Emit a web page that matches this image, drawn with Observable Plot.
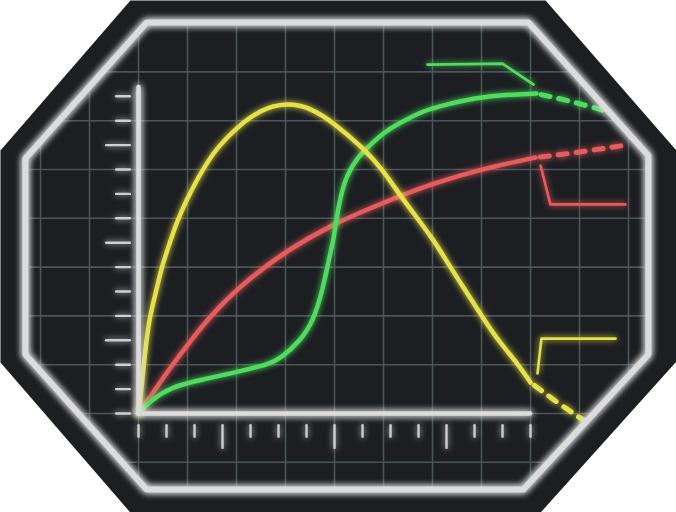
<!DOCTYPE html>
<html>
<head>
<meta charset="utf-8">
<script src="https://cdn.jsdelivr.net/npm/d3@7"></script>
<script src="https://cdn.jsdelivr.net/npm/@observablehq/plot@0.6"></script>
<style>
  body { margin: 0; background: #fff; }
  #fx { position: absolute; width: 0; height: 0; }
</style>
</head>
<body>
<svg id="fx" aria-hidden="true">
  <defs>
    <filter id="glow" filterUnits="userSpaceOnUse" x="0" y="0" width="676" height="512">
      <feGaussianBlur in="SourceGraphic" stdDeviation="3" result="b"/>
      <feMerge><feMergeNode in="b"/><feMergeNode in="SourceGraphic"/></feMerge>
    </filter>
    <filter id="glowW" filterUnits="userSpaceOnUse" x="0" y="0" width="676" height="512">
      <feGaussianBlur in="SourceGraphic" stdDeviation="3.5" result="b"/>
      <feMerge><feMergeNode in="b"/><feMergeNode in="b"/><feMergeNode in="SourceGraphic"/></feMerge>
    </filter>
    <clipPath id="inner"><polygon id="innerPoly" points=""/></clipPath>
  </defs>
</svg>
<div id="chart"></div>
<script>
// ticks del eje (largos cada 4)
const xTicks = [0, 1, 2, 3, 4, 5, 6, 7, 8, 9, 10, 11, 12, 13, 14];
const yTicks = [0, 1, 2, 3, 4, 5, 6, 7, 8, 9, 10, 11, 12, 13];
const longTicks = [3, 7, 11];

// grilla de fondo
const gridX = [-3.5, -1.75, 0, 1.75, 3.5, 5.25, 7, 8.75, 10.5, 12.25, 14, 15.75, 17.5];
const gridY = [-2, 0, 2, 4, 6, 8, 10, 12, 14, 16];

// curva amarilla
const yellowX = [0, 0.07, 0.25, 0.39, 0.64, 0.82, 1.11, 1.36, 1.71, 2.07, 2.5, 2.82, 3.5, 4.36, 5.29, 6.14, 7.0, 8.04, 8.75, 9.46, 10.5, 11.14, 11.75, 12.29, 12.93, 13.54, 14.0];
const yellowY = [0, 0.66, 2.7, 3.93, 5.04, 5.98, 6.97, 7.83, 8.73, 9.55, 10.37, 10.9, 11.72, 12.46, 12.74, 12.54, 11.89, 10.86, 9.96, 8.73, 7.21, 5.98, 4.92, 3.93, 2.87, 2.05, 1.27];
const yellowDashX = [14.0, 15.0, 16.07];
const yellowDashY = [1.27, 0.41, -0.41];

// curva verde
const greenX = [0, 0.43, 1.14, 2.11, 3.29, 4.0, 4.61, 5.07, 5.79, 6.25, 6.57, 6.79, 6.96, 7.07, 7.32, 7.82, 8.18, 8.75, 9.36, 10.07, 10.54, 12.32, 14.21];
const greenY = [0, 0.53, 1.07, 1.35, 1.64, 1.84, 2.01, 2.25, 2.99, 3.81, 5.04, 6.27, 7.09, 7.99, 9.55, 10.49, 10.9, 11.52, 11.93, 12.34, 12.54, 13.03, 13.11];
const greenDashX = [14.21, 15.18, 16.14, 16.86];
const greenDashY = [13.11, 12.87, 12.58, 12.34];

// curva roja
const redX = [0, 0.43, 1.14, 1.86, 2.82, 4.0, 5.29, 7.0, 8.18, 9.36, 10.54, 12.32, 14.18];
const redY = [0, 0.7, 1.89, 2.99, 4.34, 5.57, 6.68, 7.79, 8.36, 8.93, 9.43, 10.04, 10.49];
const redDashX = [14.18, 15.07, 16.14, 17.29];
const redDashY = [10.49, 10.61, 10.78, 10.98];

// lineas guia (sin texto)
const greenLeadX = [10.32, 13.0, 14.11];
const greenLeadY = [14.3, 14.34, 13.48];
const redLeadX = [14.36, 14.71, 17.39];
const redLeadY = [10.16, 8.57, 8.57];
const yellowLeadX = [14.25, 14.39, 17.04];
const yellowLeadY = [1.64, 3.07, 3.07];

// marco octogonal
const outerX = [-0.29, 14.54, 19.21, 19.21, 14.36, -0.29, -4.93, -4.93];
const outerY = [16.93, 16.93, 10.78, 2.13, -4.06, -4.06, 2.09, 10.78];
const innerX = [0.29, 13.93, 18.21, 18.21, 13.75, 0.29, -4.04, -4.04];
const innerY = [16.02, 16.02, 10.57, 2.42, -3.11, -3.11, 2.42, 10.45];

const pts = (xs, ys) => xs.map((x, i) => ({x, y: ys[i]}));

const W = 676, H = 512;
const xDomain = [-138 / 28, 538 / 28];
const yDomain = [-99 / 24.4, 413 / 24.4];

const YELLOW = "#e6e04a", GREEN = "#4fdc5e", RED = "#e65c5c";
const WHITE = "#dcdcdc", GRID = "#4a5557", BG = "#1c1e22";

// agrega atributos al <g> de cada mark
const attrs = a => (index, scales, values, dims, ctx, next) => {
  const g = next(index, scales, values, dims, ctx);
  for (const k in a) g.setAttribute(k, a[k]);
  return g;
};
const glow = attrs({filter: "url(#glow)"});
const glowW = attrs({filter: "url(#glowW)"});
const clip = attrs({"clip-path": "url(#inner)"});
const clipGlow = attrs({"clip-path": "url(#inner)", filter: "url(#glow)"});

const curve = (data, color) => Plot.line(data, {
  x: "x", y: "y", stroke: color, strokeWidth: 4.5, curve: "basis", render: glow
});
const dash = (data, color) => Plot.line(data, {
  x: "x", y: "y", stroke: color, strokeWidth: 5, curve: "basis",
  strokeDasharray: "9,9", strokeDashoffset: 13, render: clipGlow
});
const lead = (data, color) => Plot.line(data, {
  x: "x", y: "y", stroke: color, strokeWidth: 2.6, render: glow
});

// poligono de recorte en pixeles
const sx = d3.scaleLinear().domain(xDomain).range([0, W]);
const sy = d3.scaleLinear().domain(yDomain).range([H, 0]);
document.getElementById("innerPoly").setAttribute("points",
  pts(innerX, innerY).map(d => [sx(d.x), sy(d.y)].join(",")).join(" "));

let chart = Plot.plot({
  width: W,
  height: H,
  margin: 0,
  x: {domain: xDomain, axis: null},
  y: {domain: yDomain, axis: null},
  style: {background: "#fff"},
  marks: [
    Plot.line(pts(outerX, outerY), {x: "x", y: "y", curve: "linear-closed", fill: BG, stroke: "none"}),
    Plot.ruleX(gridX, {stroke: GRID, strokeWidth: 1.6, render: clip}),
    Plot.ruleY(gridY, {stroke: GRID, strokeWidth: 1.6, render: clip}),

    dash(pts(yellowDashX, yellowDashY), YELLOW),
    dash(pts(greenDashX, greenDashY), GREEN),
    dash(pts(redDashX, redDashY), RED),
    curve(pts(redX, redY), RED),
    curve(pts(greenX, greenY), GREEN),
    curve(pts(yellowX, yellowY), YELLOW),
    lead(pts(greenLeadX, greenLeadY), GREEN),
    lead(pts(redLeadX, redLeadY), RED),
    lead(pts(yellowLeadX, yellowLeadY), YELLOW),

    Plot.line(pts(innerX, innerY), {x: "x", y: "y", curve: "linear-closed", stroke: WHITE, strokeWidth: 6, strokeLinejoin: "round", render: glowW}),

    // ejes
    Plot.ruleX(xTicks, {x: d => d, y1: -0.5, y2: d => longTicks.includes(d) ? -1.43 : -0.97,
      stroke: "#cfcfcf", strokeWidth: 2.4, strokeLinecap: "round", render: glow}),
    Plot.ruleY(yTicks, {y: d => d, x1: -0.29, x2: d => longTicks.includes(d) ? -1.14 : -0.78,
      stroke: "#cfcfcf", strokeWidth: 2.4, strokeLinecap: "round", render: glow}),
    Plot.ruleY([0], {x1: 0, x2: 14, stroke: WHITE, strokeWidth: 4.5, strokeLinecap: "round", render: glowW}),
    Plot.ruleX([0], {y1: 0, y2: 13.36, stroke: WHITE, strokeWidth: 4.5, strokeLinecap: "round", render: glowW}),
  ]
})

d3.select('#chart').append(() => chart)
</script>
</body>
</html>
